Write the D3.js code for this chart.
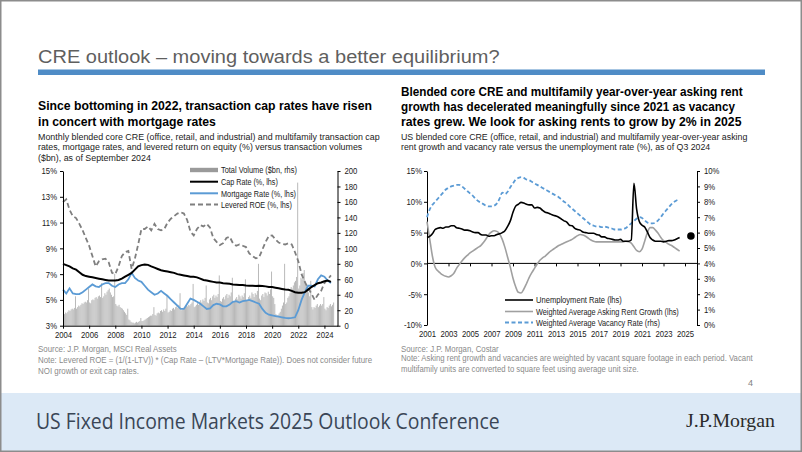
<!DOCTYPE html>
<html><head><meta charset="utf-8">
<script src="https://cdn.jsdelivr.net/npm/d3@7"></script>
<style>html,body{margin:0;padding:0;background:#fff;}svg{display:block;}</style>
</head><body>
<svg id="c" width="802" height="452"></svg>
<script>
// ---------------- DATA ----------------
// Left chart: monthly total volume ($bn) from Jan 2004 to Sep 2024
const volumeStartYear = 2004;
const volumeMonthly = [
 14,15,17,16,18,20,19,21,22,21,23,38,
 22,24,26,25,27,29,28,30,31,30,33,48,
 30,29,33,34,33,36,37,35,38,39,37,55,
 36,38,42,40,44,46,48,43,40,37,38,67,
 28,26,25,27,24,23,22,20,18,16,14,22,
 8,7,5,4,4,3,4,5,4,5,6,10,
 6,6,7,8,9,10,11,12,13,13,15,24,
 14,13,16,17,16,19,20,18,21,19,22,40,
 17,18,20,19,22,23,21,24,25,23,27,42,
 20,21,23,24,26,28,25,27,26,28,30,54,
 24,25,27,29,27,31,33,30,34,32,36,52,
 30,29,34,36,33,38,40,36,39,37,41,65,
 32,31,35,37,34,39,41,36,40,38,43,62,
 31,32,35,37,34,40,38,35,39,37,42,60,
 33,32,37,39,36,43,41,37,42,40,45,80,
 35,33,39,41,37,43,42,39,44,41,47,70,
 38,36,28,15,13,14,16,18,22,26,30,80,
 28,30,36,38,42,50,48,52,56,58,63,185,
 48,52,62,60,68,72,58,54,48,43,38,58,
 24,21,24,23,26,28,24,26,28,26,28,37,
 22,20,24,23,26,28,25,27,30
];
// Left chart: quarterly rates (%) from 2004Q1 to 2024Q3
const leftStartYear = 2004;
const capRate = [
 7.8,7.7,7.6,7.45, 7.35,7.15,6.95,6.85, 6.8,6.75,6.7,6.65, 6.6,6.55,6.5,6.5,
 6.5,6.55,6.65,6.8, 6.95,7.1,7.35,7.6, 7.7,7.75,7.72,7.6, 7.5,7.4,7.3,7.25,
 7.2,7.15,7.1,7.0, 6.95,6.9,6.85,6.8, 6.8,6.75,6.65,6.55, 6.5,6.45,6.4,6.35,
 6.35,6.3,6.28,6.25, 6.2,6.18,6.15,6.15, 6.12,6.1,6.1,6.08, 6.1,6.08,6.05,6.0,
 6.0,5.95,5.9,5.85, 5.8,5.78,5.7,5.6, 5.55,5.55,5.6,5.8, 6.0,6.15,6.3,6.35,
 6.45,6.5,6.4
];
const mortgageRate = [
 5.8,5.5,5.9,5.5, 5.45,5.45,5.6,5.8, 6.0,6.2,6.05,6.0, 6.2,6.3,6.3,6.1,
 6.0,6.2,6.3,6.3, 6.6,7.1,6.7,6.5, 6.4,6.1,5.8,5.6, 5.4,5.5,5.7,5.5,
 5.3,5.05,4.8,4.55, 4.3,4.3,4.7,5.1, 5.0,4.85,4.7,4.5, 4.3,4.35,4.6,4.7,
 4.65,4.5,4.5,4.65, 4.85,4.9,4.8,4.9, 4.95,5.0,4.9,4.8, 4.7,4.3,4.0,3.85,
 3.8,3.75,3.7,3.65, 3.6,3.58,3.6,3.65, 4.2,5.0,5.6,6.1, 6.1,6.05,6.6,6.9,
 6.8,6.5,6.3
];
const leveredROE = [
 12.6,12.8,12.0,11.5, 11.35,10.9,10.4,9.8, 9.2,8.4,7.6,8.0, 8.15,8.2,7.9,7.1,
 7.0,7.6,8.4,8.7, 8.8,7.4,8.2,9.3, 10.5,10.5,10.7,10.4, 10.9,10.5,10.4,10.5,
 11.0,11.3,11.5,11.7, 11.8,11.7,11.2,10.3, 10.0,10.5,10.8,10.7, 10.9,10.6,9.8,9.5,
 9.25,9.4,9.8,9.9, 9.4,9.2,9.3,9.2, 9.1,8.6,8.4,8.23, 8.3,8.9,9.5,9.96,
 10.0,9.7,9.45,9.35, 9.3,9.4,9.3,8.7, 8.0,7.0,6.4,5.9, 5.5,5.0,5.4,5.7,
 6.3,6.6,6.9
];
const leftYearTicks = [2004,2006,2008,2010,2012,2014,2016,2018,2020,2022,2024];
const leftPctTicks = [3,5,7,9,11,13,15];
const volumeTicks = [0,20,40,60,80,100,120,140,160,180,200];
const leftLegend = ["Total Volume ($bn, rhs)","Cap Rate (%, lhs)","Mortgage Rate (%, lhs)","Levered ROE (%, lhs)"];

// Right chart: quarterly (%) from 2001Q1 to 2024Q3
const rightStartYear = 2001;
const unemployment = [
 4.2,4.4,4.8,5.5, 5.7,5.8,5.7,5.9, 5.9,6.1,6.1,5.8, 5.7,5.6,5.4,5.4,
 5.3,5.1,5.0,5.0, 4.7,4.6,4.6,4.4, 4.5,4.5,4.7,4.8, 5.0,5.3,6.0,6.9,
 8.3,9.3,9.6,9.9, 9.8,9.6,9.5,9.5, 9.0,9.1,9.0,8.6, 8.3,8.2,8.0,7.8,
 7.7,7.5,7.2,6.9, 6.7,6.2,6.1,5.7, 5.5,5.4,5.1,5.0, 4.9,4.9,4.9,4.7,
 4.6,4.3,4.3,4.1, 4.0,3.9,3.8,3.8, 3.9,3.6,3.6,3.6, 3.8,13.0,8.8,6.8,
 6.2,5.9,5.1,4.2, 3.8,3.6,3.6,3.6, 3.5,3.6,3.7,3.7, 3.8,4.0,4.2
];
const askingRentGrowth = [
 6.8,4.0,1.2,-0.6, -1.2,-1.6,-1.9,-2.1, -2.2,-2.0,-1.6,-0.8, -0.2,0.4,0.9,1.3,
 1.7,2.0,2.3,2.6, 2.9,3.4,4.0,4.7, 5.1,5.3,5.2,4.8, 3.9,2.6,1.0,-0.6,
 -2.4,-3.8,-4.7,-4.8, -4.2,-3.3,-2.3,-1.5, -0.8,-0.1,0.5,0.9, 1.2,1.6,2.0,2.3,
 2.6,2.9,3.1,3.3, 3.5,3.7,3.9,4.2, 4.5,4.7,4.6,4.4, 4.1,3.8,3.6,3.5,
 3.5,3.5,3.5,3.5, 3.5,3.5,3.5,3.5, 3.5,3.5,3.6,3.5, 3.3,2.7,2.1,1.9,
 2.3,3.6,5.0,5.8, 5.8,5.4,4.9,4.2, 3.7,3.4,3.1,2.9, 2.6,2.3,2.0
];
const vacancyRate = [
 7.0,7.5,7.8,8.0, 8.2,8.4,8.6,8.8, 8.9,9.0,9.05,9.1, 9.1,9.0,8.85,8.7,
 8.55,8.4,8.2,8.05, 7.95,7.85,7.75,7.7, 7.7,7.75,7.9,8.2, 8.6,8.5,8.65,8.95,
 9.2,9.45,9.55,9.6, 9.55,9.45,9.4,9.3, 9.2,9.1,9.0,8.9, 8.8,8.7,8.6,8.5,
 8.4,8.3,8.15,8.0, 7.9,7.7,7.55,7.4, 7.25,7.1,6.95,6.8, 6.65,6.5,6.45,6.4,
 6.4,6.35,6.4,6.35, 6.3,6.25,6.2,6.2, 6.2,6.25,6.3,6.45, 6.6,6.75,6.9,7.0,
 6.95,6.8,6.65,6.6, 6.6,6.65,6.8,7.0, 7.25,7.45,7.65,7.85, 8.0,8.1,8.15
];
const forecastYear = [2025.55];
const forecastValue = [4.45];
const rightYearTicks = [2001,2003,2005,2007,2009,2011,2013,2015,2017,2019,2021,2023,2025];
const rightLhsTicks = [-10,-5,0,5,10,15];
const rightRhsTicks = [0,1,2,3,4,5,6,7,8,9,10];
const rightLegend = ["Unemployment Rate (lhs)","Weighted Average Asking Rent Growth (lhs)","Weighted Average Vacancy Rate (rhs)"];

// ---------------- DRAWING ----------------
const NARROW = "'Liberation Sans Narrow','Arial Narrow','Liberation Sans',Arial,sans-serif";
const SANS = "'Liberation Sans',Arial,sans-serif";
const svg = d3.select('#c');
const BLUE = '#5b9bd5';

// text helper: horizontally compresses text to a target width
function T(g, x, y, s, o) {
  const t = g.append('text').text(s)
    .attr('font-size', o.size).attr('font-family', o.family || NARROW)
    .attr('fill', o.fill || '#000');
  if (o.bold) t.attr('font-weight', 'bold');
  if (o.anchor) t.attr('text-anchor', o.anchor);
  if (o.w) {
    const n = t.node().getComputedTextLength();
    const k = n > 0 ? o.w / n : 1;
    t.attr('x', 0).attr('y', 0).attr('transform', `translate(${x},${y}) scale(${k},1)`);
  } else {
    t.attr('x', x).attr('y', y);
  }
  return t;
}

// Title & rule
T(svg, 38, 62.5, 'CRE outlook \u2013 moving towards a better equilibrium?', {size: 18.5, family: SANS, fill: '#5f5f5f', w: 462});
svg.append('rect').attr('x', 38).attr('y', 69.5).attr('width', 727).attr('height', 5.5).attr('fill', '#4f8cc6');

// Left headings
T(svg, 38, 110, 'Since bottoming in 2022, transaction cap rates have risen', {size: 13, bold: true, w: 334});
T(svg, 38, 125.5, 'in concert with mortgage rates', {size: 13, bold: true, w: 178});
T(svg, 38, 139.5, 'Monthly blended core CRE (office, retail, and industrial) and multifamily transaction cap', {size: 9.5, fill: '#222', w: 342});
T(svg, 38, 150.3, 'rates, mortgage rates, and levered return on equity (%) versus transaction volumes', {size: 9.5, fill: '#222', w: 325});
T(svg, 38, 161, '($bn), as of September 2024', {size: 9.5, fill: '#222', w: 113});

// Right headings
T(svg, 401, 96.2, 'Blended core CRE and multifamily year-over-year asking rent', {size: 13, bold: true, w: 342});
T(svg, 401, 111.2, 'growth has decelerated meaningfully since 2021 as vacancy', {size: 13, bold: true, w: 334});
T(svg, 401, 126.2, 'rates grew. We look for asking rents to grow by 2% in 2025', {size: 13, bold: true, w: 341});
T(svg, 401, 139.5, 'US blended core CRE (office, retail, and industrial) and multifamily year-over-year asking', {size: 9.5, fill: '#222', w: 347});
T(svg, 401, 150, 'rent growth and vacancy rate versus the unemployment rate (%), as of Q3 2024', {size: 9.5, fill: '#222', w: 310});

const AX_K = 0.86;
function styleAxis(g) {
  g.selectAll('text').attr('font-family', NARROW).attr('font-size', 9).attr('fill', '#1a1a1a')
    .each(function () {
      const el = d3.select(this);
      const x = +el.attr('x') || 0;
      el.attr('x', x / AX_K).attr('transform', `scale(${AX_K},1)`);
    });
  g.selectAll('line').attr('stroke', '#000');
  g.selectAll('path.domain').attr('stroke', '#000');
}

// ---------- Left chart ----------
const xL = d3.scaleLinear().domain([2004, 2025]).range([63, 337.5]);
const yL = d3.scaleLinear().domain([3, 15]).range([325.7, 171]);
const yV = d3.scaleLinear().domain([0, 200]).range([325.7, 171]);
const gL = svg.append('g');

const bw = (xL(2004 + 1/12) - xL(2004)) * 0.9;
gL.append('g').selectAll('rect').data(volumeMonthly).join('rect')
  .attr('x', (d, i) => xL(volumeStartYear + i / 12))
  .attr('y', d => yV(d))
  .attr('width', bw)
  .attr('height', d => yV(0) - yV(d))
  .attr('fill', '#b8b8b8');

const lineL = d3.line().x((d, i) => xL(leftStartYear + i / 4)).y(d => yL(d));
gL.append('path').datum(leveredROE).attr('d', lineL).attr('fill', 'none')
  .attr('stroke', '#7f7f7f').attr('stroke-width', 1.8).attr('stroke-dasharray', '5,3');
gL.append('path').datum(mortgageRate).attr('d', lineL).attr('fill', 'none')
  .attr('stroke', BLUE).attr('stroke-width', 1.8);
gL.append('path').datum(capRate).attr('d', lineL).attr('fill', 'none')
  .attr('stroke', '#000').attr('stroke-width', 2);

gL.append('g').attr('transform', 'translate(63,0)')
  .call(d3.axisLeft(yL).tickValues(leftPctTicks).tickFormat(d => d + '%').tickSize(3).tickSizeOuter(0).tickPadding(3))
  .call(styleAxis);
gL.append('g').attr('transform', 'translate(337.5,0)')
  .call(d3.axisRight(yV).tickValues(volumeTicks).tickSize(3).tickSizeOuter(0).tickPadding(4))
  .call(styleAxis);
gL.append('g').attr('transform', 'translate(0,325.7)')
  .call(d3.axisBottom(xL).tickValues(leftYearTicks).tickFormat(d3.format('d')).tickSize(3).tickSizeOuter(0).tickPadding(3))
  .call(styleAxis);

// Left legend
const legL = gL.append('g');
const legLy = [170, 181.7, 193.3, 204.5];
const legLw = [76, 57, 75, 71];
legL.append('rect').attr('x', 190).attr('y', legLy[0] - 2.2).attr('width', 28).attr('height', 4.4).attr('fill', '#9a9a9a');
legL.append('line').attr('x1', 190).attr('x2', 218).attr('y1', legLy[1]).attr('y2', legLy[1]).attr('stroke', '#000').attr('stroke-width', 2);
legL.append('line').attr('x1', 190).attr('x2', 218).attr('y1', legLy[2]).attr('y2', legLy[2]).attr('stroke', BLUE).attr('stroke-width', 2);
legL.append('line').attr('x1', 190).attr('x2', 218).attr('y1', legLy[3]).attr('y2', legLy[3]).attr('stroke', '#7f7f7f').attr('stroke-width', 1.8).attr('stroke-dasharray', '5,3');
leftLegend.forEach((s, i) => T(legL, 221, legLy[i] + 3.2, s, {size: 9, fill: '#1a1a1a', w: legLw[i]}));

// ---------- Right chart ----------
const xR = d3.scaleLinear().domain([2001, 2025]).range([427, 685]);
const yRL = d3.scaleLinear().domain([-10, 15]).range([325, 171]);
const yRR = d3.scaleLinear().domain([0, 10]).range([325, 171]);
const gR = svg.append('g');

gR.append('g').attr('transform', 'translate(427,0)')
  .call(d3.axisLeft(yRL).tickValues(rightLhsTicks).tickFormat(d => d + '%').tickSize(3).tickSizeOuter(0).tickPadding(2))
  .call(styleAxis);
gR.append('g').attr('transform', 'translate(697,0)')
  .call(d3.axisRight(yRR).tickValues(rightRhsTicks).tickFormat(d => d + '%').tickSize(3).tickSizeOuter(0).tickPadding(4))
  .call(styleAxis);
// zero line with ticks
gR.append('line').attr('x1', 427).attr('x2', 697).attr('y1', yRL(0)).attr('y2', yRL(0)).attr('stroke', '#000');
gR.append('g').attr('transform', `translate(0,${yRL(0)})`)
  .call(d3.axisBottom(xR).tickValues(rightYearTicks).tickFormat('').tickSize(3).tickSizeOuter(0))
  .call(g => g.select('.domain').remove()).call(styleAxis);
// bottom labels
gR.append('g').attr('transform', 'translate(0,325)')
  .call(d3.axisBottom(xR).tickValues(rightYearTicks).tickFormat(d3.format('d')).tickSize(0).tickPadding(6))
  .call(g => g.select('.domain').remove()).call(styleAxis);

const lineRL = d3.line().x((d, i) => xR(rightStartYear + i / 4)).y(d => yRL(d)).curve(d3.curveMonotoneX);
const lineRR = d3.line().x((d, i) => xR(rightStartYear + i / 4)).y(d => yRR(d)).curve(d3.curveMonotoneX);
gR.append('path').datum(vacancyRate).attr('d', lineRR).attr('fill', 'none')
  .attr('stroke', BLUE).attr('stroke-width', 1.8).attr('stroke-dasharray', '4,2.5');
gR.append('path').datum(askingRentGrowth).attr('d', lineRL).attr('fill', 'none')
  .attr('stroke', '#a0a0a0').attr('stroke-width', 1.6);
gR.append('path').datum(unemployment).attr('d', lineRL).attr('fill', 'none')
  .attr('stroke', '#000').attr('stroke-width', 1.6);
gR.selectAll('circle.fc').data(forecastYear).join('circle').attr('class', 'fc')
  .attr('cx', d => xR(d)).attr('cy', (d, i) => yRL(forecastValue[i])).attr('r', 3.8).attr('fill', '#000');

// Right legend
const legR = gR.append('g');
const legRy = [300, 311.5, 322.5];
const legRw = [86, 143, 124];
legR.append('line').attr('x1', 505).attr('x2', 533).attr('y1', legRy[0]).attr('y2', legRy[0]).attr('stroke', '#000').attr('stroke-width', 1.6);
legR.append('line').attr('x1', 505).attr('x2', 533).attr('y1', legRy[1]).attr('y2', legRy[1]).attr('stroke', '#a0a0a0').attr('stroke-width', 1.6);
legR.append('line').attr('x1', 505).attr('x2', 533).attr('y1', legRy[2]).attr('y2', legRy[2]).attr('stroke', BLUE).attr('stroke-width', 1.8).attr('stroke-dasharray', '4,2.5');
rightLegend.forEach((s, i) => T(legR, 536, legRy[i] + 3.2, s, {size: 9, fill: '#1a1a1a', w: legRw[i]}));

// Sources & notes
const SRC = '#8a8a8a';
T(svg, 38, 352, 'Source: J.P. Morgan, MSCI Real Assets', {size: 8.5, fill: SRC, w: 139});
T(svg, 38, 363, 'Note: Levered ROE = (1/(1-LTV)) * (Cap Rate \u2013 (LTV*Mortgage Rate)). Does not consider future', {size: 8.5, fill: SRC, w: 334});
T(svg, 38, 373.7, 'NOI growth or exit cap rates.', {size: 8.5, fill: SRC, w: 101});
T(svg, 401, 352, 'Source: J.P. Morgan, Costar', {size: 8.5, fill: SRC, w: 98});
T(svg, 401, 361.3, 'Note: Asking rent growth and vacancies are weighted by vacant square footage in each period. Vacant', {size: 8.5, fill: SRC, w: 352});
T(svg, 401, 372.3, 'multifamily units are converted to square feet using average unit size.', {size: 8.5, fill: SRC, w: 238});
T(svg, 753, 385.5, '4', {size: 9, fill: '#7f7f7f', anchor: 'end', family: SANS});

// Footer
svg.append('rect').attr('x', 0).attr('y', 393).attr('width', 802).attr('height', 59).attr('fill', '#dce9f6');
T(svg, 36, 429, 'US Fixed Income Markets 2025 Outlook Conference', {size: 22, family: "'Open Sans','Noto Sans',sans-serif", fill: '#3a4656', w: 464});
T(svg, 686, 427, 'J.P.Morgan', {size: 19, family: "'Liberation Serif','DejaVu Serif',serif", fill: '#2b2b2b', w: 89});

// Frame
svg.append('rect').attr('x', 0.75).attr('y', 0.75).attr('width', 800.5).attr('height', 450.5)
  .attr('fill', 'none').attr('stroke', '#8c8c8c').attr('stroke-width', 1.5);
</script>
</body></html>
